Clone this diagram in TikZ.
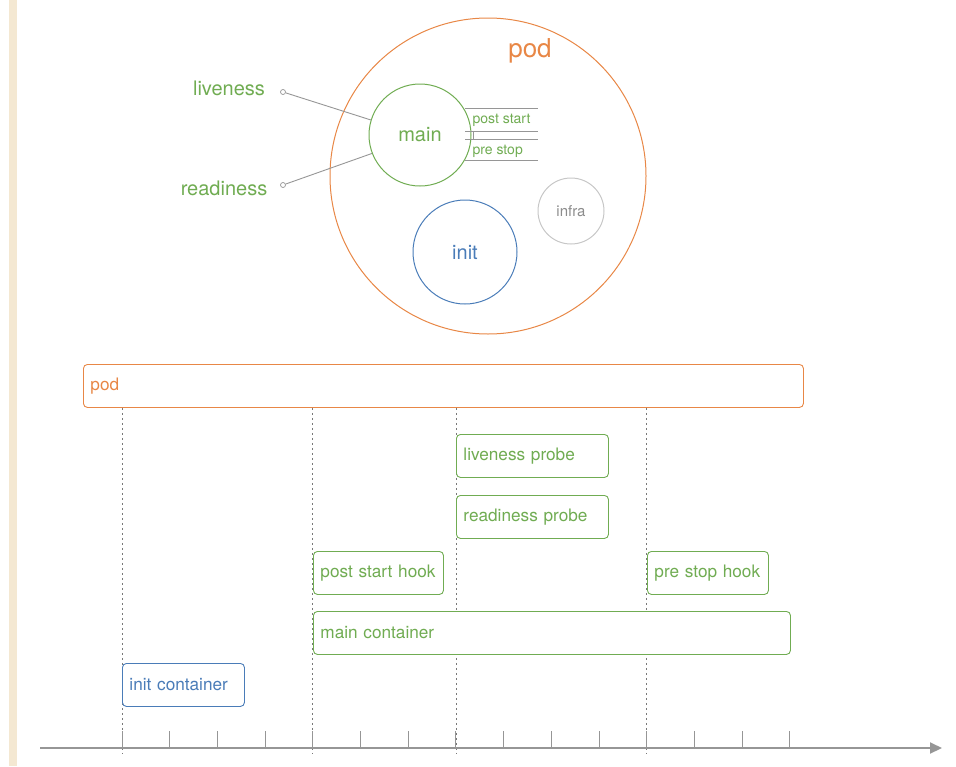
\documentclass[tikz,border=0pt]{standalone}
\usepackage{fontspec}
\setmainfont{TeX Gyre Heros}
\usetikzlibrary{arrows.meta}
\definecolor{podorange}{RGB}{232,135,70}
\definecolor{maingreen}{RGB}{112,172,82}
\definecolor{initblue}{RGB}{74,124,184}
\definecolor{linegray}{RGB}{150,150,150}
\definecolor{paper}{RGB}{244,232,210}

\begin{document}
\begin{tikzpicture}[x=1pt,y=-1pt]
    \tikzstyle{ring}=[draw,circle,line width=1pt,inner sep=0pt]
    \tikzstyle{box}=[draw,fill=white,rounded corners=4pt,line width=.9pt,anchor=north west,
        minimum height=43pt,inner xsep=7pt,align=left,font=\fontsize{17.2}{19}\selectfont]
    \tikzstyle{hook}=[draw,linegray,line width=.9pt]
    \tikzstyle{guide}=[draw,linegray!80!black,line width=.8pt,dash pattern=on 2pt off 3pt]
    \tikzstyle{dot}=[draw=linegray,circle,fill=white,line width=.7pt,inner sep=0pt,minimum size=5pt]
    \useasboundingbox (0,0) rectangle (956,766);
    \fill[paper] (9,0) rectangle (17,766);

    % pod with its containers
    \node[ring,podorange,minimum size=316pt] (podc) at (488,176) {};
    \node[text=podorange,font=\fontsize{26}{28}\selectfont] (podl) at (530,51) {pod};
    \node[ring,maingreen,minimum size=102pt,text=maingreen,font=\fontsize{20}{22}\selectfont] (main) at (420,135) {main};
    \node[ring,initblue,minimum size=104pt,text=initblue,font=\fontsize{20}{22}\selectfont] (init) at (465,252) {init};
    \node[ring,black!22,minimum size=66pt,text=black!45,font=\fontsize{15}{17}\selectfont] (infra) at (571,211) {infra};

    % probes
    \node[text=maingreen,font=\fontsize{20}{22}\selectfont] (live) at (229,88) {liveness};
    \node[text=maingreen,font=\fontsize{20}{22}\selectfont] (ready) at (224,188) {readiness};
    \node[dot] (livedot) at (283,92) {};
    \node[dot] (readydot) at (283,185) {};
    \draw[hook] (livedot) -- (main.163);
    \draw[hook] (readydot) -- (main.201);

    % hooks
    \coordinate (h1) at (465,108); \coordinate (h1e) at (538,108);
    \coordinate (h2) at (465,131); \coordinate (h2e) at (538,131);
    \coordinate (h3) at (465,139); \coordinate (h3e) at (538,139);
    \coordinate (h4) at (465,160); \coordinate (h4e) at (538,160);
    \draw[hook] (h1) -- (h1e);
    \draw[hook] (h2) -- (h2e);
    \draw[hook] (h3) -- (h3e);
    \draw[hook] (h4) -- (h4e);
    \draw[hook] (473,131) -- (473,139);
    \node[text=maingreen,font=\fontsize{14}{16}\selectfont,anchor=west] (poststart) at (469,120) {post start};
    \node[text=maingreen,font=\fontsize{14}{16}\selectfont,anchor=west] (prestop) at (469,151) {pre stop};

    % timeline
    \coordinate (axs) at (40,748);
    \coordinate (axe) at (942,748);
    \foreach \i in {0,...,14}
        \coordinate (t\i) at (122+47.71*\i,748);
    \node[box,draw=podorange,text=podorange,minimum width=720pt,text width=706pt] (pod) at (83,364) {pod};
    \foreach \i in {0,4,7,11}
        \draw[guide] (t\i |- pod.south) -- ([yshift=-5pt]t\i);
    \node[box,draw=maingreen,text=maingreen,minimum width=152pt,text width=138pt] (liveprobe) at (456,434) {liveness probe};
    \node[box,draw=maingreen,text=maingreen,minimum width=152pt,text width=138pt] (readyprobe) at (456,495) {readiness probe};
    \node[box,draw=maingreen,text=maingreen,minimum width=130pt,text width=116pt] (posthook) at (313,551) {post start hook};
    \node[box,draw=maingreen,text=maingreen,minimum width=121pt,text width=107pt] (prehook) at (647,551) {pre stop hook};
    \node[box,draw=maingreen,text=maingreen,minimum width=477pt,text width=463pt] (maincont) at (313,611) {main container};
    \node[box,draw=initblue,text=initblue,minimum width=122pt,text width=108pt] (initcont) at (122,663) {init container};
    \foreach \i in {0,...,14}
        \draw[linegray,line width=1pt] (t\i) -- ([yshift=17pt]t\i);
    \draw[linegray,line width=2pt,-{Triangle[length=12pt,width=11pt]}] (axs) -- (axe);
\end{tikzpicture}
\end{document}
